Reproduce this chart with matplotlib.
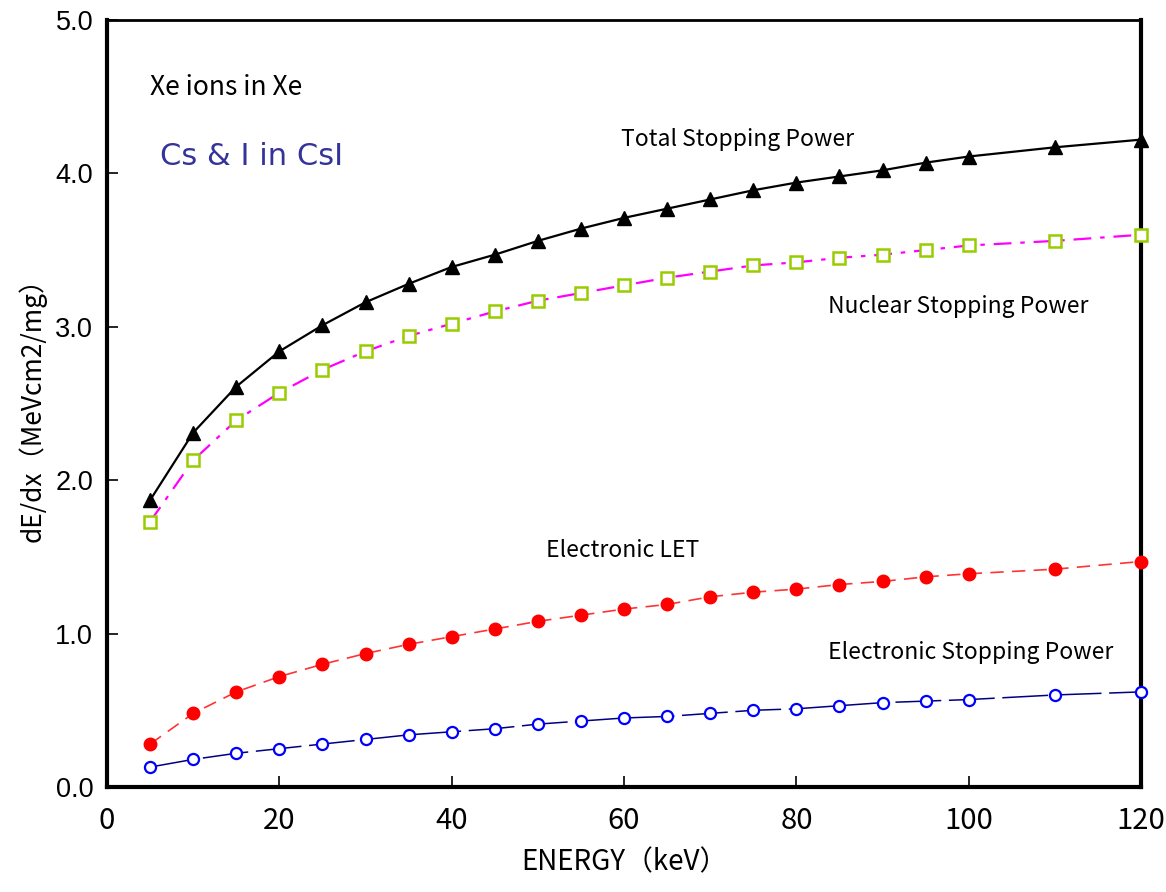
import matplotlib
matplotlib.use("Agg")
import matplotlib.pyplot as plt

# energy grid (keV)
energia = [5, 10, 15, 20, 25, 30, 35, 40, 45, 50, 55, 60, 65, 70, 75, 80,
           85, 90, 95, 100, 110, 120]

# stopping powers (MeVcm2/mg)
total = [1.87, 2.31, 2.61, 2.84, 3.01, 3.16, 3.28, 3.39, 3.47, 3.56, 3.64,
         3.71, 3.77, 3.83, 3.89, 3.94, 3.98, 4.02, 4.07, 4.11, 4.17, 4.22]
nuclear = [1.73, 2.13, 2.39, 2.57, 2.72, 2.84, 2.94, 3.02, 3.10, 3.17, 3.22,
           3.27, 3.32, 3.36, 3.40, 3.42, 3.45, 3.47, 3.50, 3.53, 3.56, 3.60]
let_elec = [0.28, 0.48, 0.62, 0.72, 0.80, 0.87, 0.93, 0.98, 1.03, 1.08, 1.12,
            1.16, 1.19, 1.24, 1.27, 1.29, 1.32, 1.34, 1.37, 1.39, 1.42, 1.47]
electronic = [0.13, 0.18, 0.22, 0.25, 0.28, 0.31, 0.34, 0.36, 0.38, 0.41, 0.43,
              0.45, 0.46, 0.48, 0.50, 0.51, 0.53, 0.55, 0.56, 0.57, 0.60, 0.62]

xticks = [0, 20, 40, 60, 80, 100, 120]
yticks = [0.0, 1.0, 2.0, 3.0, 4.0, 5.0]

jp = ['Noto Sans CJK JP', 'DejaVu Sans']

fig = plt.figure(figsize=(11.66, 8.92), dpi=100)
ax = fig.add_axes([0.0918, 0.1177, 0.8868, 0.8599])

ax.plot(energia, total, color='black', lw=1.6, marker='^', ms=10,
        mfc='black', mec='black', clip_on=False, zorder=5)
ax.plot(energia, nuclear, color='#ff00ff', lw=1.6, ls=(0, (8, 4, 2, 4)),
        marker='s', ms=8, mfc='white', mec='#99cc00', mew=1.8,
        clip_on=False, zorder=5)
ax.plot(energia, let_elec, color='#ff3333', lw=1.2, ls=(0, (8, 5)),
        marker='o', ms=9, mfc='red', mec='red', clip_on=False, zorder=5)
ax.plot(energia, electronic, color='#000080', lw=1.1, ls=(0, (30, 5)),
        marker='o', ms=8, mfc='white', mec='blue', mew=1.6,
        clip_on=False, zorder=5)

ax.set_xlim(0, 120)
ax.set_ylim(0, 5)
ax.set_xticks(xticks)
ax.set_yticks(yticks)
ax.set_xticklabels([str(v) for v in xticks], fontfamily=jp, fontsize=21)
ax.set_yticklabels([f"{v:.1f}" for v in yticks], fontfamily='Liberation Sans',
                   fontsize=19.5)
ax.tick_params(axis='both', direction='in', length=8, width=1.2, pad=10)
ax.tick_params(axis='x', pad=14)
for lado in ['left', 'bottom', 'right']:
    ax.spines[lado].set_linewidth(3)
ax.spines['top'].set_linewidth(2)

ax.set_xlabel("ENERGY（keV）", fontfamily=jp, fontsize=20, labelpad=8)
ax.set_ylabel("dE/dx（MeVcm2/mg）", fontfamily=jp, fontsize=19, labelpad=6)

ax.text(5.0, 4.56, "Xe ions in Xe", fontfamily=jp, fontsize=19, va='center')
ax.text(6.15, 4.11, "Cs & I in CsI", fontfamily='DejaVu Sans',
        fontsize=22, color='#333399', va='center')
ax.text(73.2, 4.22, "Total Stopping Power", fontfamily=jp, fontsize=16.5,
        ha='center', va='center')
ax.text(83.7, 3.135, "Nuclear Stopping Power", fontfamily=jp, fontsize=16.5,
        va='center')
ax.text(51, 1.54, "Electronic LET", fontfamily=jp, fontsize=16.5, va='center')
ax.text(83.7, 0.88, "Electronic Stopping Power", fontfamily=jp, fontsize=16.5,
        va='center')

fig.savefig("out.png", dpi=100)
